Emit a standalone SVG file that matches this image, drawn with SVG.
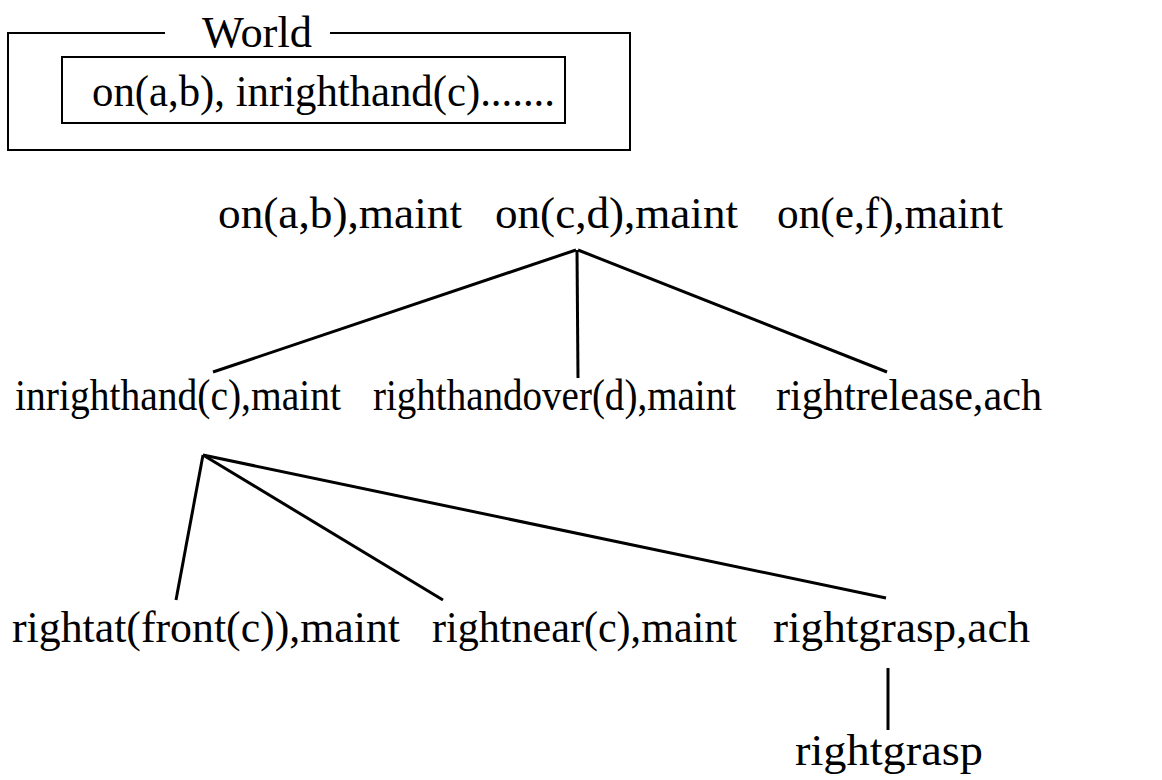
<svg xmlns="http://www.w3.org/2000/svg" width="1162" height="780" viewBox="0 0 1162 780">
<style>
text { font-family: "Liberation Serif", "Times New Roman", serif; font-size: 44px; fill: #000; }
.box { fill: none; stroke: #000; stroke-width: 2; }
.edge { stroke: #000; stroke-width: 3; fill: none; }
</style>
<rect width="1162" height="780" fill="#fff"/>
<g id="world">
  <path class="box" d="M165,33 H8 V150 H630 V33 H330"/>
  <text x="202" y="47" textLength="110" lengthAdjust="spacingAndGlyphs">World</text>
  <rect class="box" x="62" y="57" width="503" height="66"/>
  <text x="92" y="106" textLength="463" lengthAdjust="spacingAndGlyphs">on(a,b), inrighthand(c).......</text>
</g>
<g id="connectors">
  <line class="edge" x1="576" y1="250" x2="213" y2="372"/>
  <line class="edge" x1="577" y1="250" x2="578" y2="378"/>
  <line class="edge" x1="578" y1="250" x2="887" y2="372"/>
  <line class="edge" x1="203" y1="455" x2="176" y2="600"/>
  <line class="edge" x1="203" y1="455" x2="443" y2="600"/>
  <line class="edge" x1="203" y1="455" x2="886" y2="598"/>
  <line class="edge" x1="888" y1="668" x2="888" y2="730"/>
</g>
<g id="n-onab"><text x="218" y="228" textLength="244" lengthAdjust="spacingAndGlyphs">on(a,b),maint</text></g>
<g id="n-oncd"><text x="495" y="228" textLength="243" lengthAdjust="spacingAndGlyphs">on(c,d),maint</text></g>
<g id="n-onef"><text x="777" y="228" textLength="226" lengthAdjust="spacingAndGlyphs">on(e,f),maint</text></g>
<g id="n-inrighthand"><text x="15" y="410" textLength="326" lengthAdjust="spacingAndGlyphs">inrighthand(c),maint</text></g>
<g id="n-righthandover"><text x="373" y="410" textLength="363" lengthAdjust="spacingAndGlyphs">righthandover(d),maint</text></g>
<g id="n-rightrelease"><text x="776" y="410" textLength="266" lengthAdjust="spacingAndGlyphs">rightrelease,ach</text></g>
<g id="n-rightat"><text x="12" y="642" textLength="388" lengthAdjust="spacingAndGlyphs">rightat(front(c)),maint</text></g>
<g id="n-rightnear"><text x="432" y="642" textLength="305" lengthAdjust="spacingAndGlyphs">rightnear(c),maint</text></g>
<g id="n-rightgraspach"><text x="773" y="642" textLength="257" lengthAdjust="spacingAndGlyphs">rightgrasp,ach</text></g>
<g id="n-rightgrasp"><text x="795" y="765" textLength="188" lengthAdjust="spacingAndGlyphs">rightgrasp</text></g>
</svg>
